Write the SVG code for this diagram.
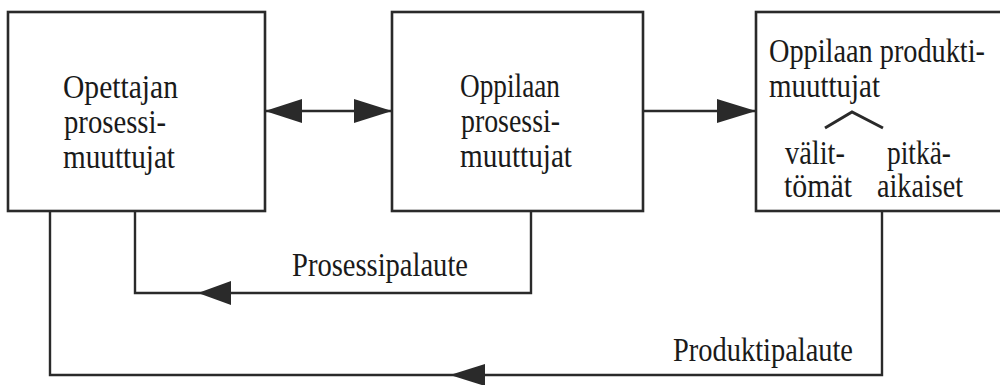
<svg xmlns="http://www.w3.org/2000/svg" width="1000" height="385" viewBox="0 0 1000 385">
<style>
.box{fill:#fff;stroke:#2a2a2a;stroke-width:2.6}
.ln{fill:none;stroke:#2a2a2a;stroke-width:2.4}
.ah{fill:#2a2a2a;stroke:none}
text{font-family:"Liberation Serif","Times New Roman",serif;font-size:33px;fill:#1a1a1a}
</style>
<rect width="1000" height="385" fill="#fff"/>
<g id="connectors">
<line class="ln" x1="265" y1="111" x2="392" y2="111"/>
<polygon class="ah" points="265,111 302,99 302,123"/>
<polygon class="ah" points="392,111 354,99 354,123"/>
<line class="ln" x1="643" y1="111" x2="756" y2="111"/>
<polygon class="ah" points="756,111 717,99 717,123"/>
<polyline class="ln" points="135,211 135,293 531,293 531,211"/>
<polygon class="ah" points="198,293 231,281 231,305"/>
<polyline class="ln" points="50,211 50,375 882,375 882,211"/>
<polygon class="ah" points="450,375 485,364 485,386"/>
<text x="292" y="276" textLength="176" lengthAdjust="spacingAndGlyphs">Prosessipalaute</text>
<text x="673" y="361" textLength="180" lengthAdjust="spacingAndGlyphs">Produktipalaute</text>
</g>
<g id="opettajan">
<rect class="box" x="8" y="12" width="257" height="199"/>
<text x="63" y="98" textLength="115" lengthAdjust="spacingAndGlyphs">Opettajan</text>
<text x="64" y="133" textLength="102" lengthAdjust="spacingAndGlyphs">prosessi-</text>
<text x="63" y="168" textLength="112" lengthAdjust="spacingAndGlyphs">muuttujat</text>
</g>
<g id="oppilaan-prosessi">
<rect class="box" x="392" y="12" width="251" height="199"/>
<text x="460" y="97" textLength="100" lengthAdjust="spacingAndGlyphs">Oppilaan</text>
<text x="461" y="132" textLength="99" lengthAdjust="spacingAndGlyphs">prosessi-</text>
<text x="460" y="167" textLength="112" lengthAdjust="spacingAndGlyphs">muuttujat</text>
</g>
<g id="oppilaan-produkti">
<rect class="box" x="756" y="12" width="246" height="199"/>
<text x="769" y="62" textLength="216" lengthAdjust="spacingAndGlyphs">Oppilaan produkti-</text>
<text x="769" y="97" textLength="111" lengthAdjust="spacingAndGlyphs">muuttujat</text>
<polyline class="ln" points="825,128 852,112 883,128" style="stroke-width:3"/>
<text x="785" y="164" textLength="60" lengthAdjust="spacingAndGlyphs">välit-</text>
<text x="887" y="164" textLength="64" lengthAdjust="spacingAndGlyphs">pitkä-</text>
<text x="784" y="197" textLength="68" lengthAdjust="spacingAndGlyphs">tömät</text>
<text x="877" y="197" textLength="86" lengthAdjust="spacingAndGlyphs">aikaiset</text>
</g>
</svg>
